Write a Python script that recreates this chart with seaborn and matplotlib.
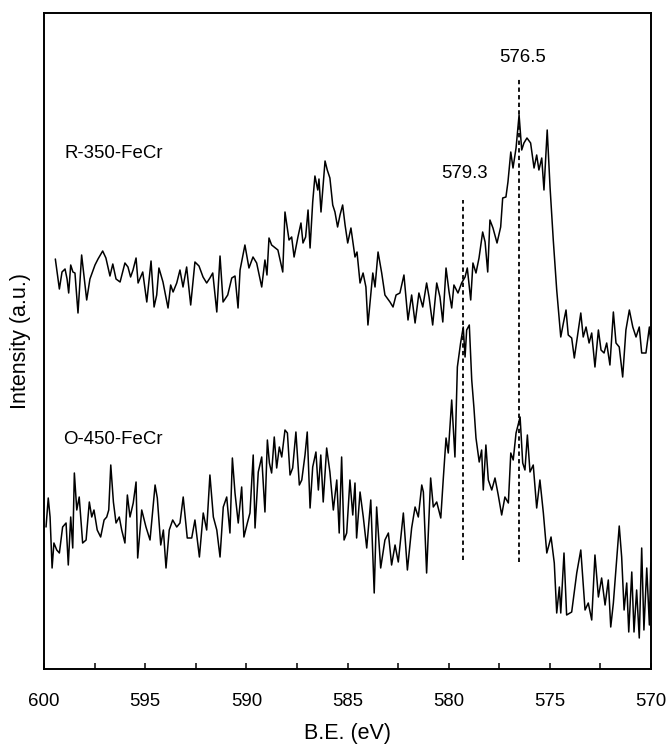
import matplotlib
matplotlib.use("Agg")
import matplotlib.pyplot as plt
import numpy as np
import pandas as pd
import seaborn as sns
from matplotlib.ticker import MultipleLocator

# ---- data (binding energy in eV, intensity in a.u.) ----
be_r350 = [599.44, 599.24, 599.11, 598.96, 598.86, 598.78, 598.68, 598.57, 598.47, 598.32,
           598.14, 597.89, 597.73, 597.48, 597.33, 597.10, 596.94, 596.74, 596.60, 596.44,
           596.24, 596.00, 595.85, 595.72, 595.60, 595.45, 595.35, 595.12, 594.92, 594.71,
           594.56, 594.43, 594.32, 594.12, 593.87, 593.74, 593.62, 593.44, 593.28, 593.13,
           592.95, 592.75, 592.54, 592.34, 592.14, 591.96, 591.80, 591.66, 591.46, 591.30,
           591.15, 590.92, 590.72, 590.56, 590.41, 590.31, 590.07, 589.87, 589.67, 589.49,
           589.24, 589.08, 588.98, 588.88, 588.75, 588.44, 588.20, 588.09, 587.89, 587.76,
           587.64, 587.45, 587.30, 587.20, 587.07, 586.95, 586.85, 586.72, 586.61, 586.47,
           586.41, 586.31, 586.11, 586.00, 585.87, 585.73, 585.62, 585.49, 585.37, 585.24,
           585.12, 584.99, 584.83, 584.63, 584.53, 584.38, 584.23, 584.09, 583.99, 583.75,
           583.64, 583.49, 583.31, 583.15, 582.90, 582.75, 582.60, 582.41, 582.21, 582.01,
           581.83, 581.66, 581.47, 581.28, 581.09, 580.97, 580.79, 580.59, 580.43, 580.29,
           580.13, 579.98, 579.85, 579.74, 579.54, 579.36, 579.19, 579.08, 578.91, 578.80,
           578.65, 578.50, 578.32, 578.20, 578.07, 577.96, 577.81, 577.61, 577.43, 577.33,
           577.17, 577.07, 576.93, 576.82, 576.67, 576.52, 576.39, 576.28, 576.13, 575.95,
           575.78, 575.65, 575.54, 575.40, 575.29, 575.13, 574.99, 574.83, 574.66, 574.46,
           574.33, 574.20, 574.09, 573.92, 573.79, 573.64, 573.47, 573.35, 573.21, 573.06,
           572.93, 572.77, 572.60, 572.47, 572.32, 572.19, 572.03, 571.86, 571.73, 571.57,
           571.40, 571.24, 571.07, 570.90, 570.74, 570.58, 570.46, 570.25, 570.08, 570.01]
int_r350 = [410, 380, 397, 400, 390, 376, 404, 397, 396, 356,
            414, 369, 390, 404, 410, 418, 411, 393, 405, 390,
            387, 406, 402, 392, 399, 411, 386, 397, 367, 408,
            362, 374, 401, 387, 361, 384, 377, 386, 399, 382,
            402, 364, 407, 403, 392, 386, 391, 396, 357, 413,
            367, 374, 391, 393, 361, 399, 424, 401, 412, 406,
            382, 409, 394, 431, 424, 419, 397, 457, 429, 432,
            412, 432, 446, 426, 432, 459, 421, 467, 493, 479,
            490, 457, 508, 499, 491, 464, 457, 442, 454, 464,
            444, 426, 441, 412, 417, 386, 396, 382, 344, 396,
            382, 417, 396, 374, 367, 362, 374, 376, 394, 349,
            374, 346, 376, 362, 386, 372, 344, 386, 372, 347,
            401, 377, 361, 384, 376, 386, 392, 401, 369, 406,
            396, 411, 437, 427, 397, 449, 441, 426, 442, 471,
            472, 487, 517, 501, 521, 554, 519, 526, 531, 526,
            501, 514, 499, 511, 479, 539, 482, 429, 379, 332,
            346, 359, 334, 331, 311, 332, 356, 332, 342, 326,
            336, 302, 339, 319, 316, 326, 304, 357, 326, 322,
            292, 339, 359, 342, 332, 342, 316, 316, 342, 327]

be_o450 = [599.90, 599.79, 599.70, 599.60, 599.51, 599.37, 599.24, 599.08, 598.91, 598.80,
           598.68, 598.58, 598.50, 598.38, 598.26, 598.09, 597.92, 597.76, 597.64, 597.53,
           597.37, 597.20, 597.03, 596.90, 596.80, 596.70, 596.57, 596.44, 596.28, 596.16,
           596.00, 595.88, 595.75, 595.59, 595.45, 595.37, 595.17, 594.96, 594.76, 594.51,
           594.40, 594.23, 594.10, 593.97, 593.81, 593.64, 593.44, 593.28, 593.12, 592.92,
           592.70, 592.54, 592.32, 592.13, 591.96, 591.80, 591.63, 591.46, 591.30, 591.14,
           590.97, 590.81, 590.69, 590.56, 590.40, 590.23, 590.12, 589.95, 589.82, 589.66,
           589.57, 589.41, 589.24, 589.08, 588.96, 588.86, 588.75, 588.62, 588.50, 588.37,
           588.25, 588.09, 587.97, 587.84, 587.71, 587.55, 587.38, 587.26, 587.10, 586.99,
           586.85, 586.72, 586.56, 586.44, 586.32, 586.20, 586.03, 585.87, 585.70, 585.53,
           585.41, 585.29, 585.17, 585.04, 584.88, 584.74, 584.63, 584.55, 584.38, 584.22,
           584.05, 583.85, 583.68, 583.56, 583.36, 583.15, 582.98, 582.82, 582.65, 582.49,
           582.24, 582.04, 581.83, 581.66, 581.50, 581.33, 581.25, 581.09, 580.89, 580.76,
           580.59, 580.39, 580.27, 580.13, 580.02, 579.85, 579.69, 579.57, 579.41, 579.28,
           579.19, 579.11, 578.98, 578.86, 578.75, 578.65, 578.49, 578.37, 578.29, 578.16,
           578.04, 577.87, 577.71, 577.55, 577.38, 577.22, 577.05, 576.93, 576.81, 576.67,
           576.47, 576.34, 576.23, 576.11, 575.98, 575.82, 575.65, 575.49, 575.32, 575.15,
           574.94, 574.78, 574.66, 574.53, 574.46, 574.30, 574.17, 573.92, 573.67, 573.47,
           573.26, 573.10, 572.93, 572.77, 572.60, 572.44, 572.27, 572.11, 571.99, 571.86,
           571.69, 571.57, 571.45, 571.33, 571.20, 571.10, 570.95, 570.84, 570.71, 570.58,
           570.46, 570.35, 570.21, 570.08, 570.01]
int_o450 = [142, 171, 152, 101, 126, 119, 116, 142, 146, 104,
            152, 121, 196, 159, 172, 126, 129, 167, 152, 159,
            139, 132, 149, 152, 159, 204, 167, 146, 152, 139,
            126, 174, 152, 166, 187, 111, 159, 142, 129, 184,
            171, 124, 139, 101, 139, 149, 142, 146, 172, 131,
            131, 149, 112, 156, 139, 194, 152, 139, 112, 162,
            172, 136, 211, 176, 146, 182, 132, 146, 156, 214,
            141, 197, 212, 157, 229, 206, 196, 232, 201, 222,
            212, 239, 236, 194, 201, 237, 184, 189, 214, 237,
            161, 202, 217, 179, 214, 167, 221, 197, 159, 189,
            136, 212, 129, 136, 189, 154, 186, 131, 177, 152,
            121, 169, 76, 162, 101, 129, 136, 104, 124, 107,
            156, 99, 141, 162, 152, 184, 177, 96, 191, 162,
            167, 151, 189, 231, 216, 269, 212, 302, 326, 342,
            312, 339, 344, 289, 261, 231, 207, 219, 179, 224,
            189, 179, 191, 174, 154, 172, 166, 216, 209, 236,
            252, 206, 199, 234, 197, 204, 161, 189, 156, 116,
            132, 106, 56, 82, 56, 116, 54, 57, 96, 119,
            59, 66, 49, 114, 72, 91, 64, 89, 42, 66,
            112, 143, 112, 59, 86, 37, 97, 37, 79, 31,
            121, 39, 101, 44, 106]

peak_be = [579.3, 576.5]
peak_labels = ["579.3", "576.5"]
sample_labels = ["R-350-FeCr", "O-450-FeCr"]
x_tick_values = [600, 595, 590, 585, 580, 575, 570]

# ---- styling ----
sns.set_theme(style="ticks")
plt.rcParams['font.family'] = ['Liberation Sans', 'DejaVu Sans']
plt.rcParams['text.color'] = 'black'
plt.rcParams['axes.labelcolor'] = 'black'
plt.rcParams['xtick.color'] = 'black'
FS = 13.4
FS_LABEL = 15.5

fig = plt.figure(figsize=(6.67, 7.44), dpi=100)
ax = fig.add_axes([44 / 667, 1 - 669 / 744, 607 / 667, 656 / 744])

df_r = pd.DataFrame({"be": be_r350, "intensity": int_r350})
df_o = pd.DataFrame({"be": be_o450, "intensity": int_o450})
sns.lineplot(data=df_r, x="be", y="intensity", estimator=None, sort=False,
             color="black", lw=1.1, ax=ax)
sns.lineplot(data=df_o, x="be", y="intensity", estimator=None, sort=False,
             color="black", lw=1.1, ax=ax)

# reference dashed lines at peak positions
dash_spans = [(109, 469), (107, 591)]
for be, (y0, y1) in zip(peak_be, dash_spans):
    ax.plot([be, be], [y0, y1], color="black", lw=1.3, dashes=(2.4, 1.8))

ax.text(579.2, 496, peak_labels[0], ha="center", va="center", fontsize=FS, color="black")
ax.text(576.35, 612, peak_labels[1], ha="center", va="center", fontsize=FS, color="black")
ax.text(599.0, 515, sample_labels[0], ha="left", va="center", fontsize=FS, color="black")
ax.text(599.05, 229, sample_labels[1], ha="left", va="center", fontsize=FS, color="black")

ax.set_xlim(600, 570)
ax.set_ylim(0, 656)
ax.set_xticks(x_tick_values)
ax.set_xticklabels([str(v) for v in x_tick_values])
ax.xaxis.set_minor_locator(MultipleLocator(2.5))
ax.set_yticks([])
ax.tick_params(axis="x", which="both", direction="in", length=4, width=1.1,
               pad=17, labelsize=FS, colors="black")
ax.set_xlabel("B.E. (eV)", fontsize=FS_LABEL, labelpad=10, color="black")
ax.set_ylabel("Intensity (a.u.)", fontsize=FS_LABEL, labelpad=9, color="black")
for sp in ax.spines.values():
    sp.set_visible(True)
    sp.set_linewidth(1.4)
    sp.set_color("black")

fig.savefig("out.png", dpi=100)
